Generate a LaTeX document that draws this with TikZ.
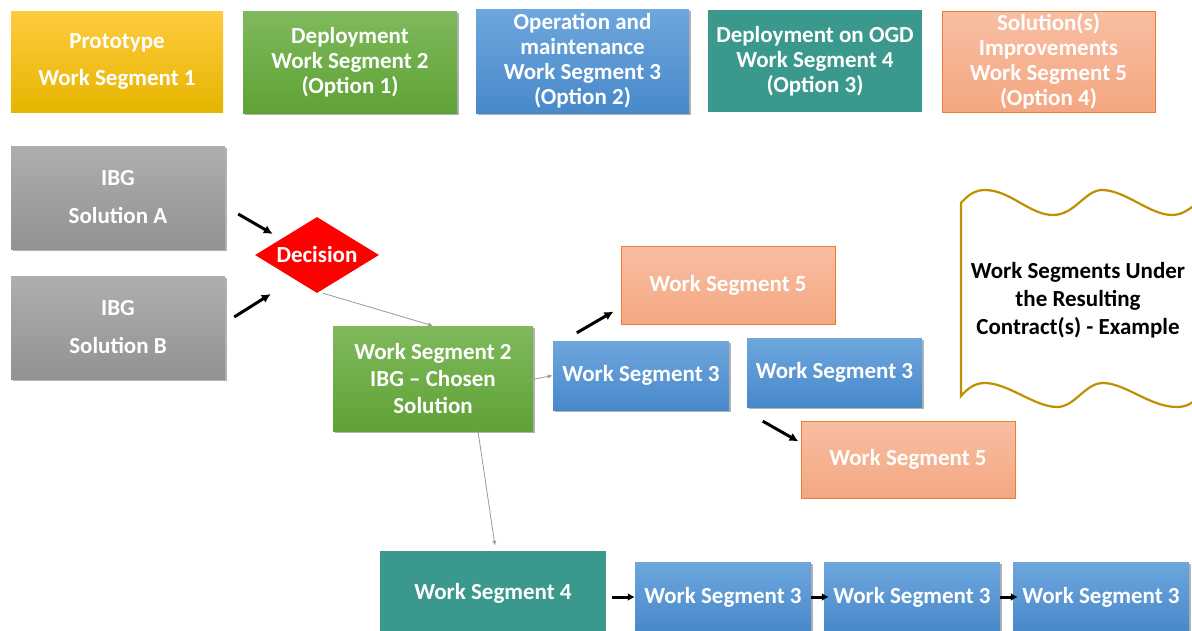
\documentclass[tikz,border=0pt]{standalone}
\usepackage{fontspec}
\setmainfont{Carlito}
\usetikzlibrary{shapes.geometric,shadows,arrows.meta}

\definecolor{segyellowA}{HTML}{FFCB3F}
\definecolor{segyellowB}{HTML}{E6B500}
\definecolor{seggreenA}{HTML}{7FB95C}
\definecolor{seggreenB}{HTML}{5FA235}
\definecolor{segblueA}{HTML}{6EA6DD}
\definecolor{segblueB}{HTML}{4889CA}
\definecolor{segteal}{HTML}{3A998C}
\definecolor{segpinkA}{HTML}{F8BEA2}
\definecolor{segpinkB}{HTML}{F4A781}
\definecolor{segorange}{HTML}{ED7D31}
\definecolor{seggrayA}{HTML}{AEAEAE}
\definecolor{seggrayB}{HTML}{929292}
\definecolor{seggold}{HTML}{BF9000}
\definecolor{segline}{HTML}{9A9A9A}

\newcommand{\segfont}{\fontsize{23}{25}\selectfont\bfseries}

\begin{document}
\begin{tikzpicture}[x=1pt,y=-1pt,>=latex,
  seg/.style={rectangle,inner sep=0pt,align=center,text=white,font=\segfont},
  segshadow/.style={drop shadow={shadow xshift=2pt,shadow yshift=-2pt,opacity=0.3,fill=black}},
  yellowseg/.style={seg,top color=segyellowA,bottom color=segyellowB},
  greenseg/.style={seg,top color=seggreenA,bottom color=seggreenB,segshadow},
  blueseg/.style={seg,top color=segblueA,bottom color=segblueB,segshadow},
  tealseg/.style={seg,fill=segteal},
  pinkseg/.style={seg,top color=segpinkA,bottom color=segpinkB,draw=segorange,line width=1pt},
  grayseg/.style={seg,top color=seggrayA,bottom color=seggrayB,segshadow},
  blk/.style={line width=3pt,-{Latex[length=9pt,width=9pt]}},
  gry/.style={segline,line width=0.8pt,-{Latex[length=5pt,width=4pt]}}]

\useasboundingbox[fill=white] (0,0) rectangle (1192,630);

% legend
\node[yellowseg,minimum width=212pt,minimum height=101pt] (proto) at (117,61.5) {Prototype\\[12pt]Work Segment 1};
\node[greenseg,minimum width=214pt,minimum height=102pt] (deploy) at (350,62) {Deployment\\Work Segment 2\\(Option 1)};
\node[blueseg,minimum width=213pt,minimum height=104pt] (oper) at (582.5,61) {Operation and\\maintenance\\Work Segment 3\\(Option 2)};
\node[tealseg,minimum width=214pt,minimum height=102pt] (ogd) at (815,61) {Deployment on OGD\\Work Segment 4\\(Option 3)};
\node[pinkseg,minimum width=213pt,minimum height=101pt] (impr) at (1048.5,61.5) {Solution(s)\\Improvements\\Work Segment 5\\(Option 4)};

% solutions and decision
\node[grayseg,minimum width=214pt,minimum height=103pt] (solA) at (118,197.5) {IBG\\[13pt]Solution A};
\node[grayseg,minimum width=214pt,minimum height=103pt] (solB) at (118,327.5) {IBG\\[13pt]Solution B};
\node[diamond,shape aspect=1.63,fill=red,inner sep=0pt,minimum width=124pt,minimum height=76pt,text=white,font=\segfont] (dec) at (317,255) {Decision};

\node[greenseg,minimum width=200pt,minimum height=105pt] (ws2) at (433,378.5) {Work Segment 2\\[2pt]IBG -- Chosen\\[2pt]Solution};

\node[blueseg,minimum width=176pt,minimum height=69pt] (ws3a) at (641,375.5) {Work Segment 3};
\node[pinkseg,minimum width=214pt,minimum height=78pt] (ws5a) at (728,285) {Work Segment 5};
\node[blueseg,minimum width=175pt,minimum height=69pt] (ws3b) at (834.5,372.5) {Work Segment 3};
\node[pinkseg,minimum width=214pt,minimum height=77pt] (ws5b) at (908,459.5) {Work Segment 5};

% bottom row
\node[tealseg,minimum width=226pt,minimum height=84pt] (ws4) at (493,593) {Work Segment 4};
\node[blueseg,minimum width=176pt,minimum height=70pt] (ws3c) at (723,597) {Work Segment 3};
\node[blueseg,minimum width=176pt,minimum height=70pt] (ws3d) at (912,597) {Work Segment 3};
\node[blueseg,minimum width=176pt,minimum height=70pt] (ws3e) at (1101,597) {Work Segment 3};

% wavy note
\draw[seggold,line width=2.2pt,fill=white] (961,203) .. controls (968,195) and (975,190) .. (985,190)
  .. controls (1010,190) and (1030,215) .. (1053,215) .. controls (1075,215) and (1085,190) .. (1102,190)
  .. controls (1125,190) and (1150,215) .. (1172,215) .. controls (1185,215) and (1195,205) .. (1205,195)
  -- (1205,390) .. controls (1195,402) and (1188,407) .. (1177,407)
  .. controls (1150,407) and (1125,383) .. (1103,383) .. controls (1085,383) and (1075,407) .. (1057,407)
  .. controls (1035,407) and (1008,383) .. (985,383) .. controls (975,383) and (968,388) .. (961,396) -- cycle;
\node[align=center,font=\segfont] (note) at (1078,300) {Work Segments Under\\[3pt]the Resulting\\[3pt]Contract(s) - Example};

% arrows
\draw[blk] ([shift={(13,16.5)}]solA.east) -- ([shift={(18,-21)}]dec.west);
\draw[blk] ([shift={(9,-10.5)}]solB.east) -- ([shift={(16,39)}]dec.west);
\draw[gry] ([shift={(6,0)}]dec.south) -- (ws2.north);
\draw[gry] ([shift={(-6,2)}]ws2.east) -- (ws3a.west);
\draw[gry] ([shift={(45,0)}]ws2.south) -- ([shift={(2,-5)}]ws4.north);
\draw[blk] ([shift={(24,-8)}]ws3a.north west) -- ([shift={(-7,-13)}]ws5a.south west);
\draw[blk] ([shift={(16,14)}]ws3b.south west) -- ([shift={(-2,21)}]ws5b.north west);
\draw[blk,-{Latex[length=7pt,width=8pt]}] ([shift={(6,4)}]ws4.east) -- (ws3c.west);
\draw[blk,-{Latex[length=7pt,width=8pt]}] (ws3c.east) -- ([shift={(5,0)}]ws3d.west);
\draw[blk,-{Latex[length=7pt,width=8pt]}] (ws3d.east) -- ([shift={(5,0)}]ws3e.west);

\end{tikzpicture}
\end{document}
